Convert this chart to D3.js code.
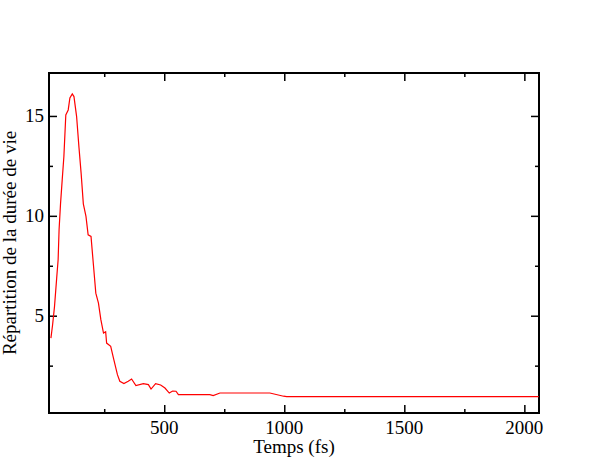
<!DOCTYPE html>
<html><head><meta charset="utf-8">
<script src="https://cdn.jsdelivr.net/npm/d3@7"></script>
<style>body{margin:0;background:#fff}text{font-family:"Liberation Serif",serif}</style>
</head><body>
<script>
var timeFs = [28,35,43,52,58,62,68,75,82,90,100,107,117,124,135,145,154,163,174,183,195,205,215,226,236,247,256,260,277,290,305,315,332,350,364,382,413,434,445,464,485,503,521,535,549,559,690,704,732,940,997,1010,2060];
var lifetime = [3.88,4.55,5.47,6.88,7.8,9.3,10.6,11.8,12.97,15.05,15.3,15.9,16.1,15.97,14.97,13.4,12.1,10.6,9.97,9.05,8.97,7.55,6.13,5.63,4.8,4.13,4.2,3.63,3.47,2.8,2.05,1.72,1.6,1.72,1.83,1.5,1.6,1.55,1.33,1.6,1.53,1.38,1.13,1.23,1.22,1.05,1.05,1.0,1.13,1.13,0.97,0.95,0.95];
var xMajor = [500,1000,1500,2000], xMinor = [250,750,1250,1750];
var yMajor = [5,10,15], yMinor = [2.5,7.5,12.5];

var W = 608, H = 459;
var m = {left:49, right:539, top:73, bottom:413};
var svg = d3.select("body").append("svg").attr("width", W).attr("height", H);
var x = d3.scaleLinear().domain([20,2061]).range([m.left, m.right]);
var y = d3.scaleLinear().domain([0.13,17.15]).range([m.bottom, m.top]);

function ticks(sel, axis, vals, len){
  sel.call(axis.tickValues(vals).tickSizeInner(len).tickSizeOuter(0).tickFormat(""));
  sel.select(".domain").remove();
  sel.selectAll("line").attr("stroke","#000").attr("stroke-width",1.5);
}
// inward ticks on all four sides
[[xMajor,8],[xMinor,4]].forEach(function(t){
  ticks(svg.append("g").attr("transform","translate(0,"+m.bottom+")"), d3.axisTop(x), t[0], t[1]);
  ticks(svg.append("g").attr("transform","translate(0,"+m.top+")"), d3.axisBottom(x), t[0], t[1]);
});
[[yMajor,8],[yMinor,4]].forEach(function(t){
  ticks(svg.append("g").attr("transform","translate("+m.left+",0)"), d3.axisRight(y), t[0], t[1]);
  ticks(svg.append("g").attr("transform","translate("+m.right+",0)"), d3.axisLeft(y), t[0], t[1]);
});
svg.append("rect").attr("x",m.left).attr("y",m.top).attr("width",m.right-m.left).attr("height",m.bottom-m.top)
  .attr("fill","none").attr("stroke","#000").attr("stroke-width",2);

svg.selectAll(".xl").data(xMajor).enter().append("text")
  .attr("x",function(d){return x(d);}).attr("y",m.bottom+21).attr("text-anchor","middle")
  .attr("font-size",19).text(function(d){return d;});
svg.selectAll(".yl").data(yMajor).enter().append("text")
  .attr("x",m.left-5).attr("y",function(d){return y(d)+6;}).attr("text-anchor","end")
  .attr("font-size",19).text(function(d){return d;});
svg.append("text").attr("x",(m.left+m.right)/2).attr("y",453).attr("text-anchor","middle")
  .attr("font-size",19).text("Temps (fs)");
svg.append("text").attr("transform","translate(16,"+(m.top+m.bottom)/2+") rotate(-90)")
  .attr("text-anchor","middle").attr("font-size",19).text("Répartition de la durée de vie");

var line = d3.line().x(function(d,i){return x(timeFs[i]);}).y(function(d){return y(d);});
svg.append("path").datum(lifetime).attr("d",line).attr("fill","none").attr("stroke","#f00").attr("stroke-width",1.2);
</script>
</body></html>
